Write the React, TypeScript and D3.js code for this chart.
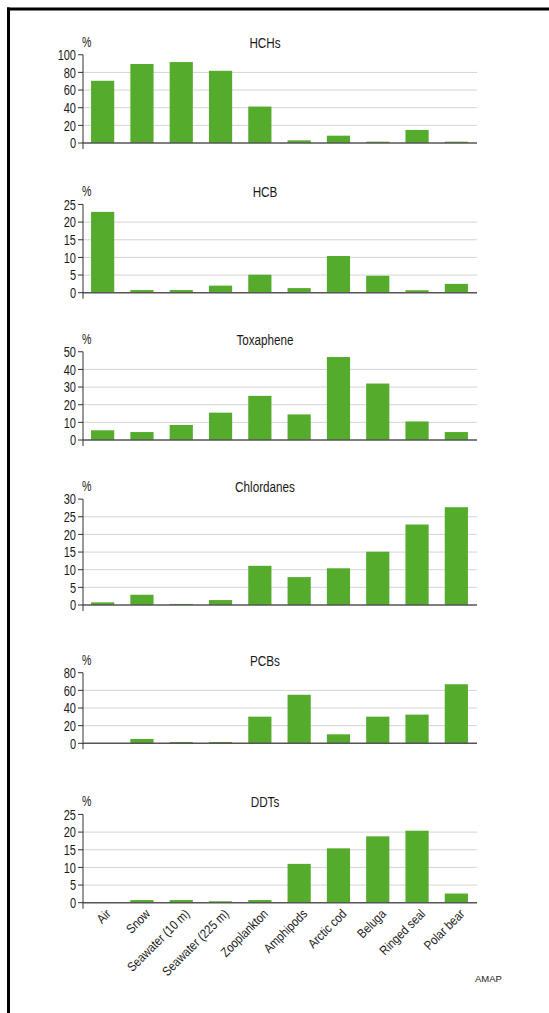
import React, { useEffect, useRef } from 'react'
import * as d3 from 'd3'

const categories = [
  'Air', 'Snow', 'Seawater (10 m)', 'Seawater (225 m)', 'Zooplankton',
  'Amphipods', 'Arctic cod', 'Beluga', 'Ringed seal', 'Polar bear'
]

const hchs = [70.5, 89.5, 91.7, 81.8, 41.3, 3, 8.3, 1.5, 14.8, 1.5]
const hcb = [22.9, 0.75, 0.75, 2, 5.1, 1.3, 10.4, 4.8, 0.7, 2.5]
const toxaphene = [5.5, 4.5, 8.5, 15.5, 25, 14.5, 47, 32, 10.5, 4.5]
const chlordanes = [0.75, 2.9, 0.3, 1.4, 11.1, 7.9, 10.4, 15.1, 22.8, 27.7]
const pcbs = [0, 4.9, 1.5, 1.5, 30.2, 55, 10.2, 30.2, 32.5, 66.9]
const ddts = [0, 0.75, 0.75, 0.4, 0.75, 11, 15.4, 18.8, 20.4, 2.6]

const titles = ['HCHs', 'HCB', 'Toxaphene', 'Chlordanes', 'PCBs', 'DDTs']
const series = [hchs, hcb, toxaphene, chlordanes, pcbs, ddts]
const yMax = [100, 25, 50, 30, 80, 25]
const yStep = [20, 5, 10, 5, 20, 5]

// baseline (value 0) of each panel, in px
const panelBase = [143, 292.7, 440, 605, 743.3, 902.7]
const tickPx = 17.65

const W = 549
const H = 1013
const font = '"Liberation Sans", Arial, sans-serif'
const squeeze = 0.76 // the original uses a condensed face

export default function App() {
  const svgRef = useRef<SVGSVGElement>(null)

  useEffect(() => {
    if (!svgRef.current) return
    const svg = d3.select(svgRef.current)
    svg.selectAll('*').remove()

    svg.append('rect').attr('width', W).attr('height', H).attr('fill', '#fff')

    // frame
    svg.append('line').attr('x1', 8.5).attr('x2', 8.5).attr('y1', 7.5).attr('y2', H)
      .attr('stroke', '#000').attr('stroke-width', 3)
    svg.append('line').attr('x1', 7).attr('x2', W).attr('y1', 9).attr('y2', 9)
      .attr('stroke', '#000').attr('stroke-width', 3)

    const x = d3.scaleBand<string>()
      .domain(categories)
      .range([83, 476])
      .paddingInner(0.41)
      .paddingOuter(0.205)

    series.forEach((vals, p) => {
      const base = panelBase[p]
      const nTicks = yMax[p] / yStep[p]
      const top = base - nTicks * tickPx
      const y = d3.scaleLinear().domain([0, yMax[p]]).range([base, top])
      const ticks = d3.range(0, yMax[p] + 0.001, yStep[p])
      const g = svg.append('g')

      // grid
      g.selectAll('line.grid')
        .data(ticks.filter(t => t > 0 && t < yMax[p]))
        .join('line')
        .attr('x1', 83).attr('x2', 477)
        .attr('y1', d => y(d)).attr('y2', d => y(d))
        .attr('stroke', '#d4d4d4').attr('stroke-width', 1)

      // bars
      g.selectAll('rect.bar')
        .data(vals)
        .join('rect')
        .attr('x', (_, i) => x(categories[i])!)
        .attr('width', x.bandwidth())
        .attr('y', d => y(d))
        .attr('height', d => base - y(d))
        .attr('fill', '#55ab2b')

      // baseline
      g.append('line').attr('x1', 83).attr('x2', 477).attr('y1', base).attr('y2', base)
        .attr('stroke', '#555').attr('stroke-width', 1.5)

      // y axis
      g.append('line').attr('x1', 83).attr('x2', 83).attr('y1', top).attr('y2', base + 6)
        .attr('stroke', '#333').attr('stroke-width', 1)
      g.selectAll('line.tick')
        .data(ticks)
        .join('line')
        .attr('x1', 78).attr('x2', 83)
        .attr('y1', d => y(d)).attr('y2', d => y(d))
        .attr('stroke', '#333').attr('stroke-width', 1)
      g.selectAll('text.tick')
        .data(ticks)
        .join('text')
        .attr('transform', d => `translate(76,${y(d) + 5.2}) scale(${squeeze},1)`)
        .attr('text-anchor', 'end')
        .attr('font-family', font)
        .attr('font-size', 14.5)
        .attr('fill', '#1a1a1a')
        .text(d => String(d))

      g.append('text')
        .attr('transform', `translate(82,${top - 8}) scale(${squeeze},1)`)
        .attr('font-family', font).attr('font-size', 14).attr('fill', '#1a1a1a')
        .text('%')

      g.append('text')
        .attr('transform', `translate(265,${top - 7}) scale(0.78,1)`)
        .attr('text-anchor', 'middle')
        .attr('font-family', font).attr('font-size', 15).attr('fill', '#1a1a1a')
        .text(titles[p])

      if (p === series.length - 1) {
        g.selectAll('text.cat')
          .data(categories)
          .join('text')
          .attr('transform', d => `translate(${x(d)! + x.bandwidth() / 2 + 9},${base + 12}) rotate(-45) scale(0.85,1)`)
          .attr('text-anchor', 'end')
          .attr('font-family', font)
          .attr('font-size', 13)
          .attr('fill', '#1a1a1a')
          .text(d => d)
      }
    })

    svg.append('text').attr('x', 475).attr('y', 982)
      .attr('font-family', font)
      .attr('font-size', 9.5).attr('fill', '#1a1a1a')
      .text('AMAP')
  }, [])

  return (
    <svg
      ref={svgRef}
      width={W}
      height={H}
      style={{ position: 'absolute', left: 0, top: 0, display: 'block' }}
    />
  )
}
